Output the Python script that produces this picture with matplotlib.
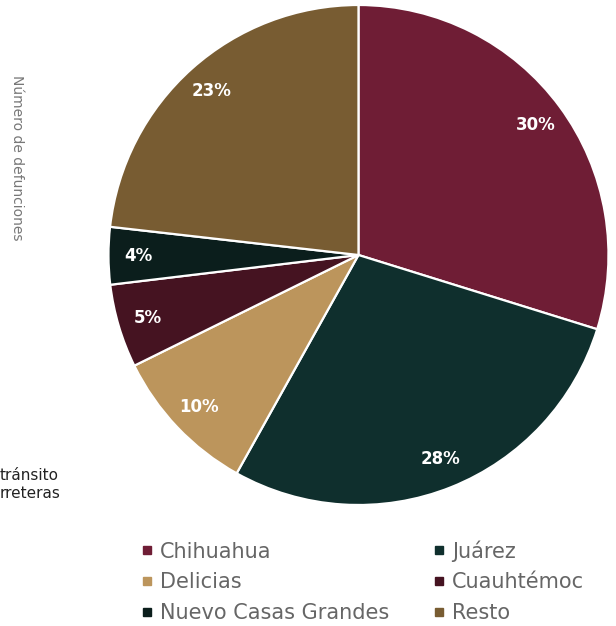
import matplotlib.pyplot as plt
from matplotlib.lines import Line2D

# Datos
municipios = ["Chihuahua", "Juárez", "Delicias", "Cuauhtémoc", "Nuevo Casas Grandes", "Resto"]
porcentajes = [29.8, 28.3, 9.6, 5.4, 3.7, 23.2]
colores = ["#6f1d35", "#0f2f2d", "#bc955c", "#451321", "#0b1e1c", "#785c32"]

plt.rcParams['font.family'] = ['DejaVu Sans']

fig = plt.figure(figsize=(6.16, 6.26), dpi=100)
ax = fig.add_axes([0.1761, 0.1933, 500 / 616, 500 / 626])

wedges, texts, autotexts = ax.pie(
    porcentajes, colors=colores, startangle=90, counterclock=False,
    autopct='%.0f%%', pctdistance=0.88,
    wedgeprops=dict(edgecolor='white', linewidth=1.6),
    textprops=dict(color='white', fontsize=12, fontweight='bold'))
ax.set_xlim(-1, 1)
ax.set_ylim(-1, 1)

# Leyenda (orden por filas)
orden = [0, 2, 4, 1, 3, 5]
handles = [Line2D([], [], marker='s', linestyle='none', markersize=6,
                  markerfacecolor=colores[i], markeredgecolor=colores[i]) for i in orden]
etiquetas = [municipios[i] for i in orden]
fig.legend(handles, etiquetas, ncol=2, frameon=False,
           loc='upper left', bbox_to_anchor=(0.228, 0.137),
           fontsize=15, labelcolor='#666666', handlelength=0.6,
           handletextpad=0.35, columnspacing=2.06, labelspacing=0.51,
           borderpad=0, borderaxespad=0)

# Textos recortados a la izquierda
fig.text(0.027, 0.748, "Número de defunciones", rotation=270, fontsize=10,
         color='#777777', ha='center', va='center')
fig.text(0.0, 0.241, "tránsito", fontsize=11, color='#222222', ha='left', va='center')
fig.text(0.0, 0.212, "rreteras", fontsize=11, color='#222222', ha='left', va='center')

fig.savefig("out.png", dpi=100)
